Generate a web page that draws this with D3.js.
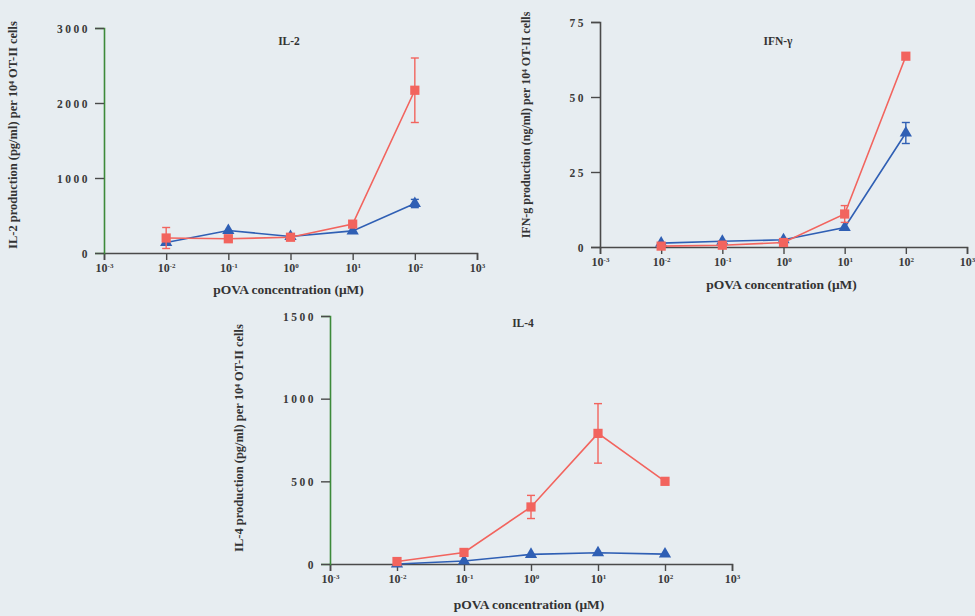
<!DOCTYPE html>
<html><head><meta charset="utf-8">
<script src="https://cdn.jsdelivr.net/npm/d3@7"></script>
<style>
body{margin:0;background:#e7edf1;}
svg{display:block;}
svg text{font-family:"Liberation Serif","Times New Roman","DejaVu Serif",serif !important;font-weight:bold;}
</style></head>
<body><svg id="c" width="975" height="616"></svg>
<script>
// ---- data ----
const concentrations = [1e-2, 1e-1, 1e0, 1e1, 1e2];
const xTickExps = [-3, -2, -1, 0, 1, 2, 3];

const il2Red = [200, 190, 210, 385, 2170];
const il2RedErr = [140, 0, 0, 0, 430];
const il2Blue = [140, 300, 220, 295, 660];
const il2BlueErr = [0, 0, 0, 0, 55];
const il2Ticks = [0, 1000, 2000, 3000];

const ifnRed = [0.3, 0.6, 1.5, 11, 63.6];
const ifnRedErr = [0, 0, 0, 2.8, 0];
const ifnBlue = [1.3, 1.9, 2.4, 6.5, 38];
const ifnBlueErr = [0, 0, 0, 0, 3.5];
const ifnTicks = [0, 25, 50, 75];

const il4Red = [15, 70, 345, 790, 500];
const il4RedErr = [0, 0, 70, 180, 0];
const il4Blue = [0, 18, 58, 68, 60];
const il4BlueErr = [0, 0, 0, 0, 0];
const il4Ticks = [0, 500, 1000, 1500];

const panels = [
  {title:"IL-2", ylabel:"IL-2 production (pg/ml) per 10⁴ OT-II cells", red:il2Red, redErr:il2RedErr, blue:il2Blue, blueErr:il2BlueErr, ticks:il2Ticks, ymax:3000,
   x0:104, x1:477, yTop:28, yBot:253, yAxisColor:"#3d8a3a", titleX:289, titleY:45, ylabX:17, ylabY:135, ylabSize:12.5, xTitleY:294},
  {title:"IFN-γ", ylabel:"IFN-g production (ng/ml)  per 10⁴ OT-II cells", red:ifnRed, redErr:ifnRedErr, blue:ifnBlue, blueErr:ifnBlueErr, ticks:ifnTicks, ymax:75,
   x0:600, x1:967, yTop:22, yBot:247, yAxisColor:"#4a4a4a", titleX:778, titleY:45, ylabX:530, ylabY:125, ylabSize:12, xTitleY:289},
  {title:"IL-4", ylabel:"IL-4 production (pg/ml) per 10⁴ OT-II cells", red:il4Red, redErr:il4RedErr, blue:il4Blue, blueErr:il4BlueErr, ticks:il4Ticks, ymax:1500,
   x0:330, x1:732, yTop:316, yBot:564, yAxisColor:"#3d8a3a", titleX:523, titleY:327, ylabX:243, ylabY:438, ylabSize:12.5, xTitleY:609}
];

const RED = "#f2645e", BLUE = "#2f5fb4", AXIS = "#4a4a4a";
const svg = d3.select("#c");

panels.forEach(p => {
  const x = d3.scaleLog().domain([1e-3, 1e3]).range([p.x0, p.x1]);
  const y = d3.scaleLinear().domain([0, p.ymax]).range([p.yBot, p.yTop]);
  const g = svg.append("g");

  // x axis
  const xa = g.append("g").attr("transform", `translate(0,${p.yBot})`)
    .call(d3.axisBottom(x).tickValues(xTickExps.map(e => Math.pow(10, e))).tickSize(7).tickFormat(""));
  xa.select(".domain").attr("stroke", AXIS).attr("stroke-width", 1.6);
  xa.selectAll(".tick line").attr("stroke", AXIS).attr("stroke-width", 1.4);
  xa.selectAll(".tick").each(function(d){
    const e = Math.round(Math.log10(d));
    const t = d3.select(this).append("text").attr("y", 19).attr("text-anchor","middle")
      .attr("fill", "#3a3a3a").attr("font-size", 12);
    t.append("tspan").text("10");
    t.append("tspan").attr("dy", -4).attr("font-size", 7).text(e < 0 ? "-" + (-e) : String(e));
  });

  // y axis
  const ya = g.append("g").attr("transform", `translate(${p.x0},0)`)
    .call(d3.axisLeft(y).tickValues(p.ticks).tickSize(9).tickPadding(5).tickFormat(d3.format("d")));
  ya.select(".domain").attr("stroke", p.yAxisColor).attr("stroke-width", 1.6);
  ya.selectAll(".tick line").attr("stroke", AXIS).attr("stroke-width", 1.4);
  ya.selectAll(".tick text").attr("fill", "#3a3a3a").attr("font-size", 11.5)
    .attr("letter-spacing", "2.5px").attr("dy", "0.35em");

  // titles
  g.append("text").attr("x", p.titleX).attr("y", p.titleY).attr("text-anchor","middle")
    .attr("font-size", 11.5).attr("fill", "#333").text(p.title);
  g.append("text").attr("x", (p.x0 + p.x1) / 2 - 2).attr("y", p.xTitleY).attr("text-anchor","middle")
    .attr("font-size", 13.5).attr("fill", "#333").text("pOVA concentration (μM)");
  g.append("text").attr("transform", `translate(${p.ylabX},${p.ylabY}) rotate(-90)`)
    .attr("text-anchor","middle").attr("font-size", p.ylabSize).attr("fill", "#333").text(p.ylabel);

  const series = [
    {vals:p.blue, err:p.blueErr, color:BLUE, shape:d3.symbolTriangle},
    {vals:p.red, err:p.redErr, color:RED, shape:d3.symbolSquare}
  ];
  series.forEach(s => {
    const pts = concentrations.map((c, i) => ({c, v:s.vals[i], e:s.err[i]}));
    g.append("path").datum(pts).attr("fill","none").attr("stroke", s.color).attr("stroke-width", 1.6)
      .attr("d", d3.line().x(d => x(d.c)).y(d => y(d.v)));
    pts.filter(d => d.e > 0).forEach(d => {
      const cx = x(d.c), y1 = y(d.v + d.e), y2 = y(Math.max(0, d.v - d.e));
      g.append("line").attr("x1", cx).attr("x2", cx).attr("y1", y1).attr("y2", y2).attr("stroke", s.color).attr("stroke-width", 1.4);
      [y1, y2].forEach(yy => g.append("line").attr("x1", cx - 4).attr("x2", cx + 4).attr("y1", yy).attr("y2", yy)
        .attr("stroke", s.color).attr("stroke-width", 1.4));
    });
    g.selectAll(null).data(pts).enter().append("path")
      .attr("transform", d => `translate(${x(d.c)},${y(d.v)})`)
      .attr("d", d3.symbol().type(s.shape).size(s.shape === d3.symbolSquare ? 85 : 65))
      .attr("fill", s.color);
  });
});
</script></body></html>
